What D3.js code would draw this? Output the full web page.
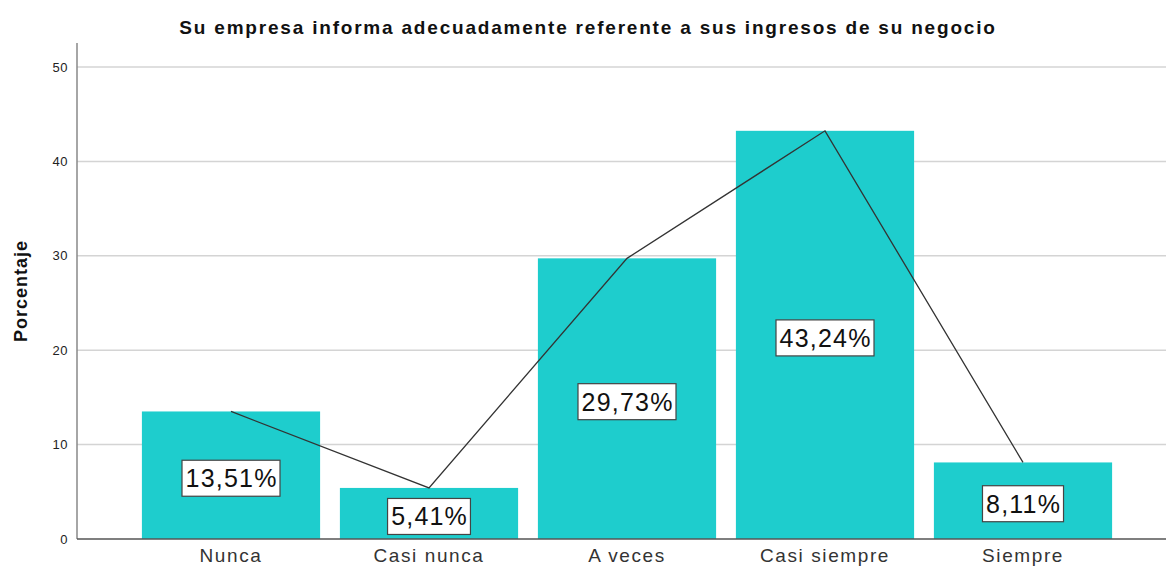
<!DOCTYPE html>
<html>
<head>
<meta charset="utf-8">
<script src="https://d3js.org/d3.v7.min.js"></script>
<style>
  body { margin: 0; background: #fff; }
  text { font-family: "Liberation Sans", Arial, sans-serif; }
</style>
</head>
<body>
<svg width="1166" height="568"></svg>
<script>
const categories = ["Nunca", "Casi nunca", "A veces", "Casi siempre", "Siempre"];
const percents = [13.51, 5.41, 29.73, 43.24, 8.11];
const labels = ["13,51%", "5,41%", "29,73%", "43,24%", "8,11%"];
const yTicks = [0, 10, 20, 30, 40, 50];

const svg = d3.select("svg");
const plotLeft = 77, plotRight = 1166, plotTop = 43, plotBottom = 539;

const x = d3.scaleBand().domain(categories).range([132, 1122]).paddingInner(0.1).paddingOuter(0.05);
const y = d3.scaleLinear().domain([0, 50]).range([plotBottom, 67]);

// gridlines
svg.append("g")
  .selectAll("line")
  .data(yTicks.filter(d => d > 0))
  .join("line")
  .attr("x1", plotLeft).attr("x2", plotRight)
  .attr("y1", d => y(d)).attr("y2", d => y(d))
  .attr("stroke", "#d4d4d4").attr("stroke-width", 1.5);

// bars
svg.append("g")
  .selectAll("rect")
  .data(categories)
  .join("rect")
  .attr("x", d => x(d))
  .attr("width", x.bandwidth())
  .attr("y", (d, i) => y(percents[i]))
  .attr("height", (d, i) => y(0) - y(percents[i]))
  .attr("fill", "#1ecdcd");

// line through bar tops
const line = d3.line()
  .x(d => x(d.c) + x.bandwidth() / 2)
  .y(d => y(d.v));
svg.append("path")
  .datum(categories.map((c, i) => ({c, v: percents[i]})))
  .attr("d", line)
  .attr("fill", "none")
  .attr("stroke", "#333")
  .attr("stroke-width", 1.3);

// axes
const yAxis = svg.append("g")
  .attr("transform", `translate(${plotLeft},0)`)
  .call(d3.axisLeft(y).tickValues(yTicks).tickSize(0).tickPadding(9));
yAxis.select(".domain").remove();
yAxis.selectAll("text").style("font-size", "13px").style("letter-spacing", "0.5px").attr("fill", "#222");

svg.append("line")
  .attr("x1", plotLeft).attr("x2", plotLeft)
  .attr("y1", plotTop).attr("y2", plotBottom)
  .attr("stroke", "#888").attr("stroke-width", 1.5);
svg.append("line")
  .attr("x1", plotLeft).attr("x2", plotRight)
  .attr("y1", plotBottom).attr("y2", plotBottom)
  .attr("stroke", "#555").attr("stroke-width", 1.3);

const xAxis = svg.append("g")
  .attr("transform", `translate(0,${plotBottom})`)
  .call(d3.axisBottom(x).tickSize(0).tickPadding(10));
xAxis.select(".domain").remove();
xAxis.selectAll("text").style("font-size", "19px").style("letter-spacing", "1.6px").attr("fill", "#333");

// value labels
const lab = svg.append("g")
  .selectAll("g")
  .data(categories)
  .join("g")
  .attr("transform", (d, i) => {
    const cy = Math.min((y(percents[i]) + y(0)) / 2 + 3, plotBottom - 22);
    return `translate(${x(d) + x.bandwidth() / 2},${cy})`;
  });
lab.append("text")
  .attr("text-anchor", "middle")
  .attr("dy", "0.36em")
  .attr("dx", 0.6)
  .style("font-size", "25px")
  .style("letter-spacing", "1.2px")
  .attr("fill", "#111")
  .text((d, i) => labels[i])
  .each(function() {
    const b = this.getBBox();
    const w = b.width + 6;
    d3.select(this.parentNode).insert("rect", "text")
      .attr("x", -w / 2).attr("y", -18)
      .attr("width", w).attr("height", 36)
      .attr("fill", "#fff").attr("stroke", "#444").attr("stroke-width", 1.2);
  });

// titles
svg.append("text")
  .attr("x", 588).attr("y", 34)
  .attr("text-anchor", "middle")
  .style("font-size", "19px").style("font-weight", "bold")
  .style("letter-spacing", "1.8px")
  .attr("fill", "#111")
  .text("Su empresa informa adecuadamente referente a sus ingresos de su negocio");

svg.append("text")
  .attr("transform", "translate(27,291) rotate(-90)")
  .attr("text-anchor", "middle")
  .style("font-size", "18px").style("font-weight", "bold")
  .style("letter-spacing", "1px")
  .attr("fill", "#111")
  .text("Porcentaje");
</script>
</body>
</html>
